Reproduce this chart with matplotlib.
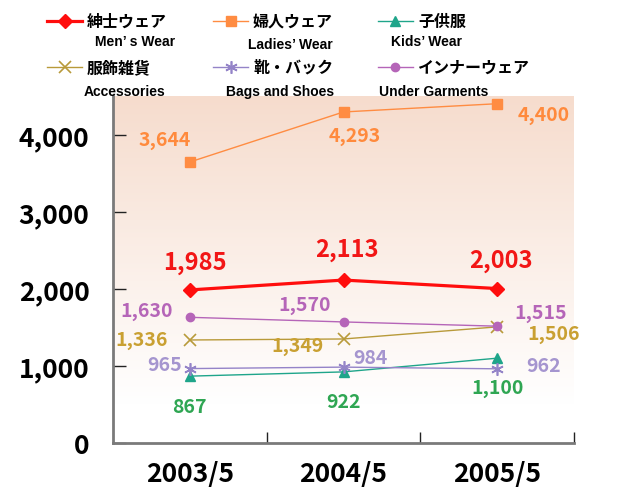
import matplotlib

matplotlib.use("Agg")
import matplotlib.pyplot as plt
import numpy as np
from matplotlib.colors import LinearSegmentedColormap
from matplotlib.lines import Line2D

plt.rcParams["font.family"] = ["Noto Sans CJK JP", "DejaVu Sans"]

periods = ["2003/5", "2004/5", "2005/5"]

names_jp = ["紳士ウェア", "婦人ウェア", "子供服", "服飾雑貨", "靴・バック", "インナーウェア"]
names_en = ["Men’ s Wear", "Ladies’ Wear", "Kids’ Wear", "Accessories", "Bags and Shoes", "Under Garments"]

mens = [1985, 2113, 2003]
ladies = [3644, 4293, 4400]
kids = [867, 922, 1100]
accessories = [1336, 1349, 1506]
bags = [965, 984, 962]
under = [1630, 1570, 1515]

series = [mens, ladies, kids, accessories, bags, under]

# style per series: line colour, label colour, marker, marker size, line width
styles = [
    ("#ff0d0d", "#f21616", "D", 7.5, 2.3),
    ("#ff8c42", "#ff8a3d", "s", 6.5, 1.0),
    ("#1fa58a", "#2fa653", "^", 7.5, 1.0),
    ("#b89a3a", "#c9a032", "x", 8, 1.0),
    ("#9484c8", "#a595cf", (6, 2, 0), 9, 1.0),
    ("#b565b8", "#b565b8", "o", 6, 1.0),
]

# label offsets in pixels from each point
offsets = [
    [(5, 28), (4, 31), (4, 29)],
    [(-25, 23), (11, -24), (47, -11)],
    [(0, -30), (0, -30), (0, -29)],
    [(-48, 0), (-46, -7), (57, -7)],
    [(-25, 4), (27, 10), (46, 3)],
    [(-43, 7), (-39, 17), (44, 14)],
]
label_sizes = [17, 14, 14, 14, 14, 14]

W, H = 644, 489
fig = plt.figure(figsize=(W / 100, H / 100), dpi=100)
ax = fig.add_axes([113 / W, 1 - 444 / H, 461 / W, 347 / H])

x = np.arange(len(periods))
ax.set_xlim(-0.5, 2.5)
ax.set_ylim(0, 4500)

# peach gradient background fading to white near the bottom
cmap = LinearSegmentedColormap.from_list(
    "bg", [(0.0, "#ffffff"), (0.11, "#ffffff"), (1.0, "#f6dccd")])
grad = np.linspace(0, 1, 256).reshape(-1, 1)[::-1]
ax.imshow(grad, extent=(-0.5, 2.5, 0, 4500), aspect="auto", cmap=cmap,
          vmin=0, vmax=1, zorder=0, interpolation="bilinear")

for vals, (lc, tc, mk, ms, lw), offs, fs in zip(series, styles, offsets, label_sizes):
    mew = 1.2 if mk in ("x", (6, 2, 0)) else 1.0
    ax.plot(x, vals, color=lc, linewidth=lw, marker=mk, markersize=ms,
            markeredgewidth=mew, zorder=3, clip_on=False)
    for xi, v, (dx, dy) in zip(x, vals, offs):
        ax.annotate(f"{v:,}", xy=(xi, v), xytext=(dx, dy), textcoords="offset pixels",
                    ha="center", va="center", fontsize=fs, fontweight="bold",
                    color=tc, zorder=4)

ax.set_yticks([0, 1000, 2000, 3000, 4000])
ax.set_yticklabels([f"{v:,}" for v in [0, 1000, 2000, 3000, 4000]])
ax.set_xticks(x)
ax.set_xticklabels(periods)
ax.set_xticks([0.5, 1.5, 2.5], minor=True)
ax.tick_params(axis="y", direction="in", length=9, width=1, color="#222222",
               labelsize=19, pad=17)
ax.tick_params(axis="x", which="major", length=0, labelsize=19, pad=12)
ax.tick_params(axis="x", which="minor", direction="in", length=8, width=1, color="#222222")
for lab in ax.get_yticklabels() + ax.get_xticklabels():
    lab.set_fontweight("bold")

for side in ("top", "right"):
    ax.spines[side].set_visible(False)
for side in ("left", "bottom"):
    ax.spines[side].set_color("#7a7a7a")
    ax.spines[side].set_linewidth(2)
    ax.spines[side].set_zorder(5)


def fxy(px, py):
    return px / W, 1 - py / H


# legend, built by hand
legend_cols = [47, 213, 378]
legend_rows = [22, 68]
english_pos = [(135, 42), (290, 45), (427, 42), (125, 92), (280, 92), (434, 92)]
for i, (jp, en) in enumerate(zip(names_jp, names_en)):
    lc, tc, mk, ms, lw = styles[i]
    cx = legend_cols[i % 3]
    cy = legend_rows[i // 3]
    x0, y0 = fxy(cx, cy)
    x1, _ = fxy(cx + 35, cy)
    xm, _ = fxy(cx + 17.5, cy)
    mew = 1.2 if mk in ("x", (6, 2, 0)) else 1.0
    fig.add_artist(Line2D([x0, x1], [y0, y0], color=lc, linewidth=lw,
                          transform=fig.transFigure))
    fig.add_artist(Line2D([xm], [y0], color=lc, marker=mk, markersize=ms,
                          markeredgewidth=mew, transform=fig.transFigure))
    tx, ty = fxy(cx + 40, cy)
    fig.text(tx, ty, jp, ha="left", va="center", fontsize=11.5, fontweight="bold")
    ex, ey = fxy(*english_pos[i])
    fig.text(ex, ey, en, ha="center", va="center", fontsize=10, fontweight="bold",
             family=["Liberation Sans", "DejaVu Sans"])

fig.savefig("out.png", dpi=100)
